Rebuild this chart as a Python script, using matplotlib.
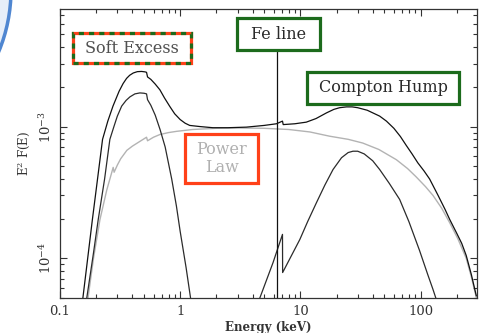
import matplotlib.pyplot as plt
import numpy as np
from matplotlib.patches import Rectangle, Circle
from matplotlib.ticker import LogLocator, NullFormatter, FixedLocator, FixedFormatter

# spectral components, energies in keV and E^2 F(E) in arbitrary units
total_e = [0.155, 0.186, 0.226, 0.25, 0.276, 0.31, 0.335, 0.358, 0.38, 0.407, 0.44, 0.477,
           0.51, 0.525, 0.535, 0.57, 0.62, 0.678, 0.74, 0.82, 0.9, 1.0, 1.1, 1.2,
           1.46, 1.87, 2.5, 3.56, 5.0, 6.33, 7.1, 7.2, 9.0, 11.2, 13.5, 16.5,
           19.0, 21.2, 24.2, 27.0, 30.0, 36.0, 45.7, 52.0, 60.0, 68.0, 76.0, 85.0,
           95.0, 107.0, 119.0, 140.0, 160.0, 175.0, 200.0, 220.0, 240.0, 265.0, 291.0]
total_f = [5.0e-5, 1.97e-4, 8.0e-4, 1.1e-3, 1.43e-3, 1.85e-3, 2.12e-3, 2.32e-3, 2.45e-3, 2.55e-3, 2.61e-3, 2.62e-3,
           2.6e-3, 2.58e-3, 2.38e-3, 2.28e-3, 2.1e-3, 1.9e-3, 1.65e-3, 1.42e-3, 1.25e-3, 1.13e-3, 1.06e-3, 1.02e-3,
           1.0e-3, 0.98e-3, 0.98e-3, 0.99e-3, 1.02e-3, 1.05e-3, 1.1e-3, 1.035e-3, 1.05e-3, 1.08e-3, 1.15e-3, 1.27e-3,
           1.35e-3, 1.39e-3, 1.41e-3, 1.41e-3, 1.39e-3, 1.33e-3, 1.2e-3, 1.1e-3, 0.97e-3, 0.84e-3, 0.72e-3, 0.62e-3,
           0.53e-3, 0.46e-3, 0.40e-3, 0.30e-3, 0.235e-3, 0.197e-3, 0.155e-3, 0.13e-3, 1.05e-4, 7.5e-5, 5.2e-5]

soft_e = [0.167, 0.19, 0.208, 0.235, 0.26, 0.281, 0.30, 0.326, 0.355, 0.382, 0.42, 0.462,
          0.50, 0.525, 0.535, 0.57, 0.62, 0.68, 0.75, 0.85, 0.93, 1.0, 1.12, 1.22]
soft_f = [5.0e-5, 1.1e-4, 1.97e-4, 4.0e-4, 8.0e-4, 1.0e-3, 1.2e-3, 1.43e-3, 1.58e-3, 1.68e-3, 1.77e-3, 1.8e-3,
          1.79e-3, 1.77e-3, 1.6e-3, 1.45e-3, 1.22e-3, 9.5e-4, 7.0e-4, 4.0e-4, 2.5e-4, 1.6e-4, 8.5e-5, 5.0e-5]

powerlaw_e = [0.171, 0.19, 0.215, 0.245, 0.277, 0.282, 0.30, 0.32, 0.36, 0.40, 0.45, 0.525,
              0.535, 0.6, 0.678, 0.8, 0.935, 1.27, 2.0, 3.0, 5.0, 8.0, 12.0, 17.5,
              25.0, 33.0, 45.0, 63.0, 78.0, 92.0, 110.0, 127.0, 150.0, 175.0, 205.0, 240.0,
              265.0, 292.0]
powerlaw_f = [5.0e-5, 1.0e-4, 1.97e-4, 3.3e-4, 4.9e-4, 4.5e-4, 5.1e-4, 5.7e-4, 6.6e-4, 7.1e-4, 7.6e-4, 8.3e-4,
              7.8e-4, 8.3e-4, 8.7e-4, 9.0e-4, 9.2e-4, 9.5e-4, 9.7e-4, 9.75e-4, 9.7e-4, 9.5e-4, 9.1e-4, 8.45e-4,
              8.0e-4, 7.5e-4, 6.7e-4, 5.6e-4, 4.8e-4, 4.15e-4, 3.5e-4, 3.0e-4, 2.4e-4, 1.86e-4, 1.4e-4, 1.0e-4,
              7.2e-5, 5.0e-5]

refl_e = [4.6, 5.93, 7.1, 7.12, 9.9, 11.5, 13.6, 16.0, 18.7, 22.0, 25.0, 27.4,
          30.0, 34.0, 40.0, 45.7, 55.0, 67.0, 80.0, 98.0, 115.0, 127.0, 134.0]
refl_f = [5.0e-5, 9.3e-5, 1.52e-4, 7.8e-5, 1.39e-4, 1.9e-4, 2.64e-4, 3.6e-4, 4.72e-4, 5.8e-4, 6.35e-4, 6.5e-4,
          6.5e-4, 6.2e-4, 5.5e-4, 4.72e-4, 3.7e-4, 2.8e-4, 1.9e-4, 1.15e-4, 7.5e-5, 5.8e-5, 5.0e-5]

fe_line_e = 6.4

x_ticks = [0.1, 1, 10, 100]
x_tick_labels = ["0.1", "1", "10", "100"]
y_ticks = [1e-4, 1e-3]
y_tick_labels = [r"$10^{-4}$", r"$10^{-3}$"]

green = "#1c6b1c"
red = "#ff4119"

plt.rcParams["font.family"] = "DejaVu Serif"
plt.rcParams["mathtext.fontset"] = "dejavuserif"

fig = plt.figure(figsize=(4.79, 3.33), dpi=100, facecolor="white")
ax = fig.add_axes([60 / 479, 35 / 333, 417 / 479, 289 / 333])
ax.set_xscale("log")
ax.set_yscale("log")
ax.set_xlim(0.1, 295)
ax.set_ylim(5e-5, 7.8e-3)

ax.plot(powerlaw_e, powerlaw_f, color="#b3b3b3", lw=1.0, zorder=2)
ax.plot(soft_e, soft_f, color="#2b2b2b", lw=0.9, zorder=3)
ax.plot(refl_e, refl_f, color="#2b2b2b", lw=0.9, zorder=3)
ax.plot(total_e, total_f, color="#111111", lw=0.9, zorder=4)
ax.plot([fe_line_e, fe_line_e], [5e-5, 4e-3], color="#111111", lw=0.9, zorder=4)

# labelled boxes, in axes fraction
def label_box(x0, y0, x1, y1, text, tcolor, ecolor, dashed_with=None):
    rect = Rectangle((x0, y0), x1 - x0, y1 - y0, transform=ax.transAxes,
                     facecolor="white", edgecolor=ecolor, lw=2.3, zorder=6)
    ax.add_patch(rect)
    if dashed_with is not None:
        ax.add_patch(Rectangle((x0, y0), x1 - x0, y1 - y0, transform=ax.transAxes,
                               facecolor="none", edgecolor=dashed_with, lw=2.3,
                               linestyle=(0, (1.6, 1.6)), zorder=7))
    ax.text((x0 + x1) / 2, (y0 + y1) / 2, text, transform=ax.transAxes,
            ha="center", va="center", color=tcolor, fontsize=11.5,
            linespacing=1.1, zorder=8)

label_box(0.031, 0.813, 0.314, 0.917, "Soft Excess", "#505050", red, dashed_with=green)
label_box(0.424, 0.858, 0.624, 0.968, "Fe line", "#2a2a2a", green)
label_box(0.592, 0.673, 0.957, 0.783, "Compton Hump", "#2a2a2a", green)
label_box(0.300, 0.399, 0.476, 0.567, "Power\nLaw", "#b0b0b0", red)

ax.xaxis.set_major_locator(FixedLocator(x_ticks))
ax.xaxis.set_major_formatter(FixedFormatter(x_tick_labels))
ax.xaxis.set_minor_locator(LogLocator(base=10, subs=np.arange(2, 10)))
ax.xaxis.set_minor_formatter(NullFormatter())
ax.yaxis.set_major_locator(FixedLocator(y_ticks))
ax.yaxis.set_major_formatter(FixedFormatter(y_tick_labels))
ax.yaxis.set_minor_locator(LogLocator(base=10, subs=np.arange(2, 10)))
ax.yaxis.set_minor_formatter(NullFormatter())

ax.tick_params(which="both", direction="in", top=True, right=True, colors="#333333",
               width=0.8, labelsize=9.5, labelcolor="#333333")
ax.tick_params(which="major", length=5)
ax.tick_params(which="minor", length=3)
ax.tick_params(axis="y", labelrotation=90, pad=4)
ax.tick_params(axis="x", pad=5)
for lbl in ax.get_yticklabels():
    lbl.set_va("center")
for sp in ax.spines.values():
    sp.set_color("#333333")
    sp.set_linewidth(0.9)

ax.set_xlabel("Energy (keV)", fontsize=8.5, fontweight="bold", color="#333333", labelpad=2)
ax.set_ylabel(r"E$^2$ F(E)", fontsize=8.5, color="#333333", labelpad=5)

# corner swoosh
fig.patches.append(Circle((-150, 343), 161, transform=None, facecolor="#e6eef9",
                          edgecolor="#4f86d1", lw=2.5, zorder=0))

fig.savefig("out.png", dpi=100)
